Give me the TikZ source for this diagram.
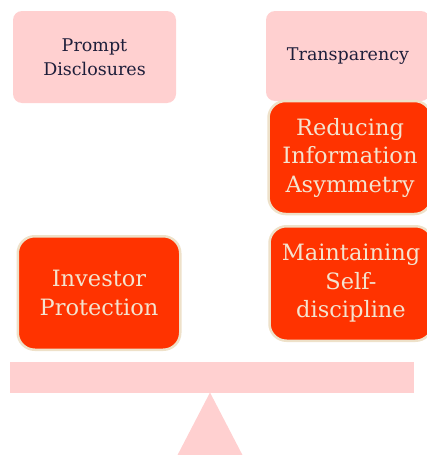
\documentclass[tikz,border=0pt]{standalone}
\usepackage{fontspec}
\setmainfont{DejaVu Serif}
\usepackage{xcolor}
\usetikzlibrary{
    shapes.geometric,
    arrows.meta,
    positioning,
    calc
}
\definecolor{balancepink}{RGB}{255, 208, 208}
\definecolor{alertred}{RGB}{255, 51, 0}
\definecolor{creamrim}{RGB}{238, 225, 201}
\definecolor{creamtext}{RGB}{244, 227, 207}
\definecolor{inkdark}{RGB}{30, 30, 58}

\begin{document}
\begin{tikzpicture}[
        x=1pt, y=-1pt,
        softbox/.style={fill=balancepink, rounded corners=9pt, align=center, text=inkdark,
            font={\fontsize{17.5}{24}\selectfont}, inner sep=0pt},
        hotbox/.style={fill=alertred, draw=creamrim, line width=2.5pt, rounded corners=17pt, align=center,
            text=creamtext, font={\fontsize{22.5}{28.5}\selectfont}, inner sep=0pt,
            minimum width=163pt, minimum height=113pt}
    ]
        \useasboundingbox (0, 0) rectangle (426, 455);

        % Top row
        \node[softbox, minimum width=163pt, minimum height=92pt] (prompt) at (94.5, 57) {Prompt\\Disclosures};
        \node[softbox, minimum width=164pt, minimum height=90pt] (transp) at (348, 56) {Transparency};

        % Right pan
        \node[hotbox] (reduce) at (350, 157.5) {Reducing\\Information\\Asymmetry};
        \node[hotbox, minimum height=114.5pt] (maintain) at (351, 283.5) {Maintaining\\Self-\\discipline};

        % Left pan
        \node[hotbox, minimum width=162.5pt, minimum height=113.5pt] (investor) at (99, 293) {Investor\\Protection};

        % Beam and pivot
        \node[fill=balancepink, inner sep=0pt, minimum width=404.5pt, minimum height=30.5pt] (beam) at (211.75, 377.25) {};
        \coordinate (apex) at (210, 392.5);
        \fill[balancepink] (apex) -- (176, 458) -- (244, 458) -- cycle;
    \end{tikzpicture}
\end{document}
